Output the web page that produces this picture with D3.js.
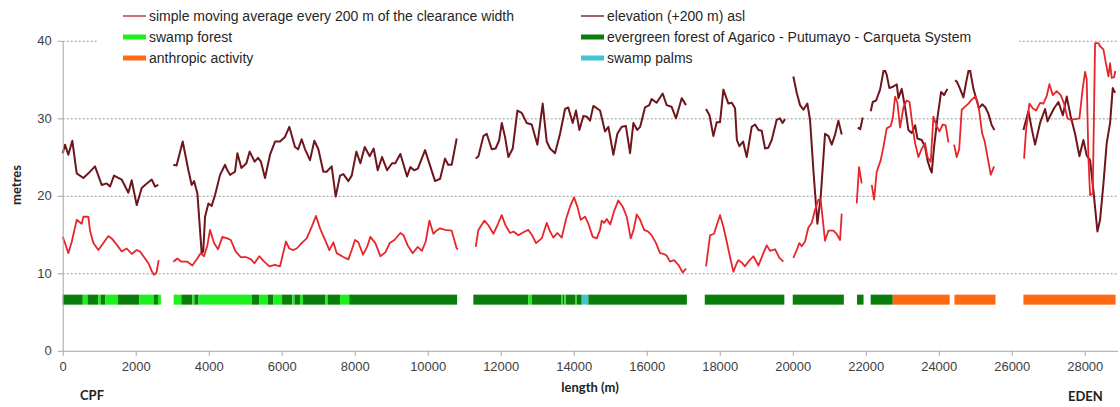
<!DOCTYPE html>
<html>
<head>
<meta charset="utf-8">
<script src="https://cdn.jsdelivr.net/npm/d3@7"></script>
<style>
  body { margin: 0; background: #fff; }
  svg { display: block; font-family: "Liberation Sans", Arial, sans-serif; }
  .axis path, .axis line { stroke: #a6a6a6; }
  .axis text { fill: #404040; font-size: 13px; }
  .grid { stroke: #9a9a9a; stroke-dasharray: 2,2; stroke-width: 1; }
  .title { font-family: Lato, "Open Sans", sans-serif; font-weight: bold; font-size: 13px; fill: #222; }
  .legend text { font-size: 14px; fill: #262626; }
</style>
</head>
<body>
<script>
// elevation (+200 m) asl, null = gap
const elevDist = [0,63,154,264,384,566,703,885,1068,1205,1297,1406,1616,1799,1890,2027,2164,2256,2438,2530,2620,2800,
  3030,3120,3288,3443,3534,3600,3690,3808,3850,3900,3991,4080,4174,4311,4448,4500,4585,4720,4786,4895,5032,5123,5260,5350,5430,5543,5680,5817,5954,6090,6208,6364,6450,6546,6640,6775,6894,7004,7141,7230,7369,7479,7598,7690,7826,7918,8045,8155,8274,8411,8520,8630,8749,8886,9023,9110,9251,9434,9525,9630,9730,9927,10064,10201,10340,10475,10560,10657,10794,11000,
  11315,11390,11525,11616,11753,11860,11954,12030,12118,12210,12329,12457,12575,12712,12849,13005,13150,13260,13351,13488,13625,13762,13850,13972,14063,14154,14264,14360,14447,14538,14721,14858,14950,15086,15196,15315,15430,15543,15635,15740,15820,15953,16070,16135,16270,16437,16546,16680,16803,16958,17077,17350,
  17625,17720,17826,17917,18008,18100,18237,18330,18420,18470,18538,18640,18739,18876,18970,19059,19150,19242,19330,19424,19561,19650,19720,19790,19900,
  20017,20109,20200,20292,20401,20474,20566,20675,20767,20885,20980,21068,21160,21251,21342,21550,
  21780,21850,21917,22030,
  22137,22192,22283,22393,22502,22575,22648,22758,22850,22895,22986,23078,23169,23260,23352,23416,23535,23626,23690,23763,23808,23872,23963,24064,24146,24237,24340,
  24447,24500,24584,24676,24749,24840,24950,25041,25100,25190,25280,25360,25452,25525,25900,
  26320,26457,26550,26639,26776,26913,26980,27050,27160,27279,27400,27507,27617,27735,27854,27963,28054,28146,28237,28347,28420,28511,28602,28694,28767,28831];
const elevValue = [25.5,26.6,25.3,27.1,22.9,22.3,22.9,23.8,21.4,21.6,21.2,22.6,22.1,20.4,22.0,18.8,21.0,21.4,22.1,21.2,21.4,null,
  24.0,23.9,27.0,23.3,21.4,21.9,20.3,12.6,12.8,17.3,19.0,18.7,20.1,22.7,24.0,23.4,22.7,23.1,25.5,23.6,24.2,25.7,24.4,24.9,24.4,22.3,25.3,27.0,27.0,27.6,28.9,26.3,26.0,27.3,26.0,24.6,27.1,26.0,23.1,23.1,23.8,19.9,22.6,22.8,21.9,22.6,25.7,24.2,26.3,25.1,26.1,23.3,25.0,23.3,24.2,24.2,25.4,22.5,23.7,23.3,23.5,25.9,23.9,21.9,22.2,24.8,24.0,24.0,27.4,null,
  24.8,25.1,27.7,28.0,26.0,26.1,27.1,29.4,27.6,25.0,26.1,31.0,30.7,29.4,29.2,26.6,31.9,27.0,26.1,25.5,28.0,31.2,31.4,29.4,31.0,28.5,30.3,30.2,29.7,31.6,31.0,28.3,28.9,25.3,28.0,28.9,29.0,25.5,29.4,28.5,28.9,31.4,31.7,32.5,32.0,33.2,31.7,31.5,30.0,32.6,31.7,null,
  31.2,30.4,27.7,29.5,29.5,33.7,31.9,32.0,31.3,27.2,26.4,27.0,25.0,28.9,29.2,28.5,28.4,26.1,26.2,27.2,29.8,30.0,29.4,29.9,null,
  35.4,33.3,31.7,31.1,31.9,29.8,23.3,16.4,19.9,28.0,27.7,26.6,27.9,29.7,27.9,null,
  28.8,28.6,30.1,null,
  30.9,32.1,32.3,33.7,36.5,35.6,33.9,34.1,34.4,32.6,33.8,31.4,28.5,28.1,29.1,27.4,27.2,26.3,24.6,23.5,23.0,26.3,30.0,33.4,33.0,33.8,null,
  34.9,34.7,33.8,32.7,34.6,36.7,33.8,32.3,31.3,31.8,31.4,30.6,29.1,28.5,null,
  28.5,30.9,28.6,26.6,29.4,31.2,29.6,30.3,31.3,32.1,30.4,32.8,30.2,28.0,25.1,27.2,25.2,24.6,20.7,15.4,16.9,21.5,26.8,29.4,33.9,33.3];

// simple moving average every 200 m of the clearance width, null = gap
const avgDist = [0,63,154,245,384,520,566,703,749,840,977,1114,1251,1342,1479,1616,1753,1890,2027,2120,2256,2347,2438,2502,2570,2630,2800,
  3030,3140,3250,3415,3552,3689,3780,3872,3963,4036,4146,4256,4374,4511,4603,4740,4877,5020,5160,5251,5388,5520,5662,5816,5954,6117,6208,6318,6409,6546,6684,6821,6940,7050,7187,7306,7415,7507,7689,7826,7918,8009,8100,8228,8338,8429,8566,8703,8840,8959,9087,9251,9340,9452,9589,9726,9840,9945,10046,10155,10240,10338,10480,10657,10794,10830,11000,
  11315,11388,11553,11662,11799,11910,12027,12130,12255,12350,12484,12620,12758,12860,12968,13123,13260,13351,13442,13550,13671,13790,13899,14008,14100,14191,14310,14401,14520,14630,14721,14767,14830,14904,15000,15104,15223,15342,15452,15561,15640,15726,15820,15927,16030,16136,16255,16364,16460,16546,16638,16750,16867,16986,17077,17350,
  17625,17735,17845,17917,18008,18100,18191,18282,18374,18465,18511,18600,18693,18785,18922,19059,19196,19287,19379,19516,19635,19744,19900,
  20017,20109,20182,20246,20337,20429,20520,20612,20703,20767,20885,20976,21114,21200,21297,21342,21550,
  21753,21817,21890,22030,
  22165,22228,22301,22411,22484,22575,22685,22740,22804,22868,22941,23032,23123,23200,23288,23352,23443,23535,23626,23690,23781,23854,23945,24018,24110,24190,24265,24340,
  24420,24493,24560,24630,24721,24813,24904,24995,25059,25114,25187,25260,25360,25425,25516,25900,
  26338,26393,26484,26575,26667,26776,26868,26959,27032,27123,27233,27342,27434,27525,27617,27735,27854,27945,28009,28054,28100,28146,28219,28283,28374,28420,28511,28584,28648,28694,28740,28803,28840];
const avgValue = [14.7,13.9,12.6,14.0,16.9,16.4,17.3,17.3,15.5,13.9,13.0,13.9,14.8,14.5,13.7,12.8,13.2,12.5,13.0,12.8,11.9,11.3,10.3,9.8,10.1,11.7,null,
  11.5,11.9,11.5,11.5,11.0,11.9,12.6,12.2,13.6,15.6,13.9,13.1,14.7,14.5,14.3,12.8,12.1,12.1,11.8,11.3,12.2,11.5,10.9,11.1,10.9,14.1,13.2,13.0,13.2,13.9,14.5,16.0,17.4,15.8,14.3,13.0,14.0,12.6,12.1,11.8,13.0,14.3,14.0,12.4,13.4,14.7,13.9,12.2,12.7,13.9,14.3,15.2,14.9,13.6,12.6,13.4,12.9,14.1,16.8,15.1,15.5,15.8,15.6,15.5,13.2,13.1,null,
  13.4,15.6,16.8,16.2,15.1,16.2,17.5,16.2,15.2,15.4,14.9,15.3,15.6,14.9,13.9,14.5,16.5,15.4,14.6,15.2,14.6,17.0,18.6,19.8,18.6,16.9,17.3,16.4,14.7,14.5,15.6,16.8,16.5,17.0,16.3,18.0,19.4,18.6,17.3,14.5,15.6,17.6,16.9,15.6,15.4,14.9,13.9,12.6,12.5,12.3,11.5,11.7,11.1,10.1,10.6,null,
  10.9,14.9,15.1,16.2,17.5,16.0,14.1,12.1,10.2,11.3,11.7,11.4,10.9,11.5,12.2,11.0,12.6,13.6,12.9,13.1,12.0,11.5,null,
  12.0,13.0,13.9,13.5,14.1,15.9,16.5,18.2,19.5,19.4,14.2,15.5,15.5,15.1,14.3,17.7,null,
  19.0,23.7,21.6,null,
  21.4,19.5,23.1,24.6,26.3,28.7,29.0,30.0,32.8,32.0,28.8,31.4,32.3,32.1,28.8,26.8,25.0,26.1,26.8,25.0,24.4,30.2,29.0,28.3,29.2,29.1,26.9,null,
  26.6,25.0,26.0,31.1,31.5,31.9,32.4,32.8,32.2,30.8,28.1,27.0,24.4,22.7,23.8,null,
  24.8,28.5,31.9,31.3,31.0,32.0,31.9,32.9,34.4,33.0,33.5,33.0,31.9,30.0,29.8,29.9,30.0,33.9,36.0,35.0,25.0,20.1,20.3,39.7,39.7,39.3,38.9,37.0,35.4,37.1,35.2,35.3,36.1];

// land cover along the clearance
const coverLevel = 6.6;
const coverStart = [0,550,680,970,1040,1170,1510,2100,2490,2610,
  3040,3250,3550,3610,3720,5180,5380,5620,5770,6010,6290,6350,6500,6580,7190,7260,7600,7850,
  11250,12757,12850,13652,13698,13743,13790,14035,14082,14219,14400,
  17590,20000,21760,22135,22740,24430,26320];
const coverEnd = [550,680,970,1040,1170,1510,2100,2490,2610,2690,
  3250,3550,3610,3720,5180,5380,5620,5770,6010,6290,6350,6500,6580,7190,7260,7600,7850,10805,
  12757,12850,13652,13698,13743,13790,14035,14082,14219,14400,17100,
  19770,21400,21940,22740,24300,25555,28845];
const coverType = ['E','S','E','S','E','S','E','S','E','S',
  'S','E','S','E','S','E','S','E','S','E','S','E','S','E','S','E','S','E',
  'E','S','E','S','E','S','E','S','E','P','E',
  'E','E','E','E','A','A','A'];

const xTicks = d3.range(0, 28001, 2000);
const yTicks = [0, 10, 20, 30, 40];

const coverColor = { E: '#0a7d0a', S: '#1ef01e', A: '#ff6a12', P: '#3fc6d2' };
const avgColor = '#e8252b';
const elevColor = '#6e161c';

const width = 1120, height = 407;
const x = d3.scaleLinear().domain([0, 28900]).range([62.7, 1117.6]);
const y = d3.scaleLinear().domain([0, 40]).range([350.8, 40.8]);

const svg = d3.select('body').append('svg')
  .attr('width', width)
  .attr('height', height);

// gridlines
svg.append('g').selectAll('line')
  .data(yTicks.filter(d => d > 0))
  .join('line')
  .attr('class', 'grid')
  .attr('x1', x(0)).attr('x2', 1117)
  .attr('y1', d => y(d) + 0.5).attr('y2', d => y(d) + 0.5);

// land cover strip
const cover = coverStart.map((s, i) => ({ s, e: coverEnd[i], t: coverType[i] }));
svg.append('g').selectAll('rect')
  .data(cover)
  .join('rect')
  .attr('x', d => x(d.s))
  .attr('width', d => x(d.e) - x(d.s))
  .attr('y', y(coverLevel) - 5)
  .attr('height', 10)
  .attr('fill', d => coverColor[d.t]);

const line = d3.line()
  .defined(d => d[1] != null)
  .x(d => x(d[0]))
  .y(d => y(d[1]));

svg.append('path')
  .datum(elevDist.map((d, i) => [d, elevValue[i]]))
  .attr('d', line)
  .attr('fill', 'none')
  .attr('stroke', elevColor)
  .attr('stroke-width', 2)
  .attr('stroke-linejoin', 'round');

svg.append('path')
  .datum(avgDist.map((d, i) => [d, avgValue[i]]))
  .attr('d', line)
  .attr('fill', 'none')
  .attr('stroke', avgColor)
  .attr('stroke-width', 1.8)
  .attr('stroke-linejoin', 'round');

// axes
svg.append('g')
  .attr('class', 'axis')
  .attr('transform', `translate(0,${y(0)})`)
  .call(d3.axisBottom(x).tickValues(xTicks).tickSize(5).tickSizeOuter(0).tickPadding(6).tickFormat(d3.format('d')));

svg.append('g')
  .attr('class', 'axis')
  .attr('transform', `translate(${x(0)},0)`)
  .call(d3.axisLeft(y).tickValues(yTicks).tickSize(5).tickSizeOuter(0).tickPadding(6));

// titles
svg.append('text').attr('class', 'title')
  .attr('transform', 'translate(21,185) rotate(-90)')
  .attr('text-anchor', 'middle')
  .text('metres');
svg.append('text').attr('class', 'title')
  .attr('x', 590).attr('y', 392)
  .attr('text-anchor', 'middle')
  .text('length (m)');
svg.append('text').attr('class', 'title')
  .attr('x', 80).attr('y', 400)
  .text('CPF');
svg.append('text').attr('class', 'title')
  .attr('x', 1068).attr('y', 401)
  .text('EDEN');

// legend
const legendItems = [
  { label: 'simple moving average every 200 m of the clearance width', color: '#b8404a', w: 1.5, col: 0, row: 0 },
  { label: 'swamp forest', color: coverColor.S, w: 5, col: 0, row: 1 },
  { label: 'anthropic activity', color: coverColor.A, w: 5, col: 0, row: 2 },
  { label: 'elevation (+200 m) asl', color: '#7a3036', w: 1.5, col: 1, row: 0 },
  { label: 'evergreen forest of Agarico - Putumayo - Carqueta System', color: coverColor.E, w: 5, col: 1, row: 1 },
  { label: 'swamp palms', color: coverColor.P, w: 5, col: 1, row: 2 }
];
const colX = [123, 581];
const legend = svg.append('g').attr('class', 'legend');
legend.append('rect')
  .attr('x', 98).attr('y', 0).attr('width', 921).attr('height', 70)
  .attr('fill', '#fff');
const li = legend.selectAll('g.item')
  .data(legendItems)
  .join('g')
  .attr('class', 'item')
  .attr('transform', d => `translate(${colX[d.col]},${16 + d.row * 21})`);
li.append('line')
  .attr('x1', 0).attr('x2', 23)
  .attr('stroke', d => d.color)
  .attr('stroke-width', d => d.w);
li.append('text')
  .attr('x', 26).attr('dy', '0.35em')
  .text(d => d.label);
</script>
</body>
</html>
